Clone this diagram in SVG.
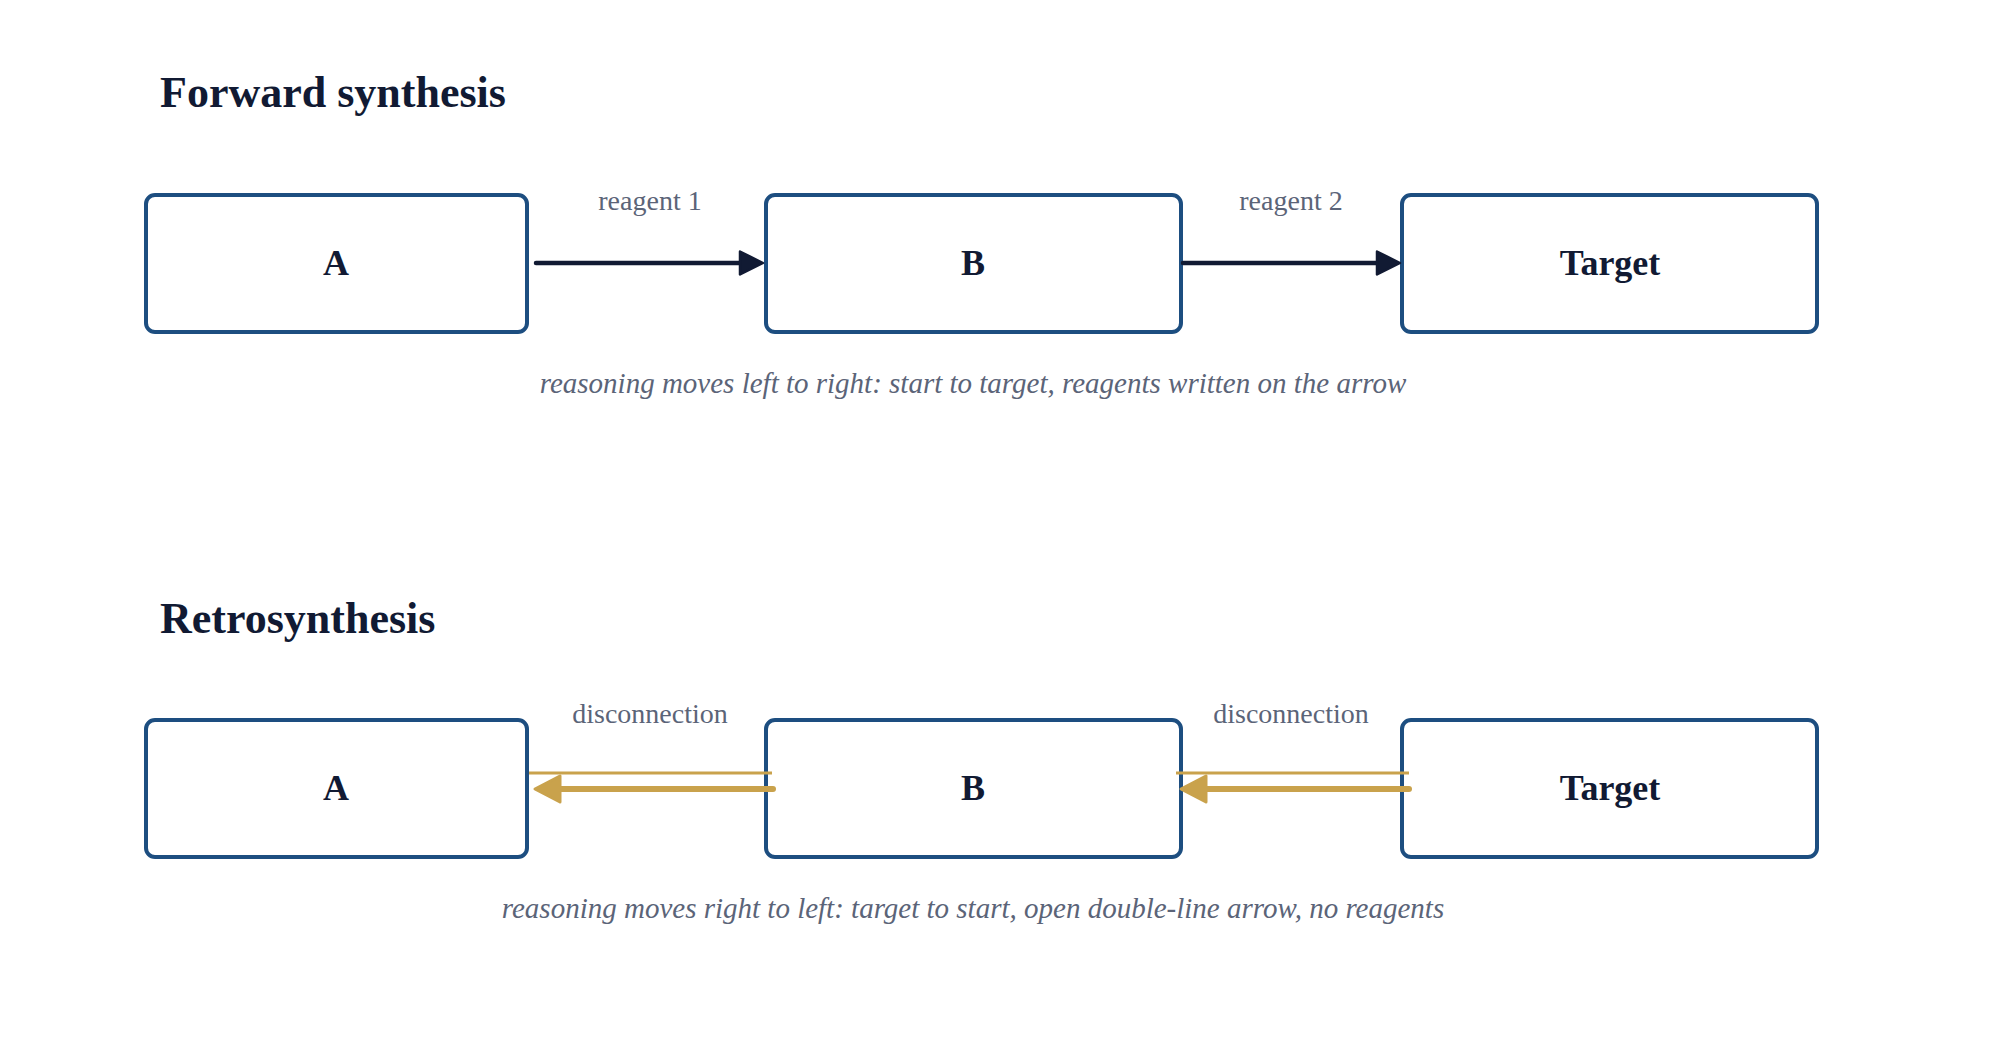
<svg xmlns="http://www.w3.org/2000/svg" width="2000" height="1040" viewBox="0 0 2000 1040">
  <style>
    .title { font-family: "Liberation Serif", "DejaVu Serif", serif; font-weight: bold; font-size: 44px; fill: #111a33; }
    .node rect { fill: #ffffff; stroke: #1d4e80; stroke-width: 4; }
    .node text { font-family: "Liberation Serif", "DejaVu Serif", serif; font-weight: bold; font-size: 36px; fill: #111a33; text-anchor: middle; }
    .elabel { font-family: "Liberation Serif", "DejaVu Serif", serif; font-size: 28px; fill: #5b6478; text-anchor: middle; }
    .caption { font-family: "Liberation Serif", "DejaVu Serif", serif; font-style: italic; font-size: 29px; fill: #5b6478; text-anchor: middle; }
    .fwd { stroke: #111a33; stroke-width: 4.5; stroke-linecap: round; fill: none; }
    .retro-thin { stroke: #c9a24c; stroke-width: 3; fill: none; }
    .retro-thick { stroke: #c9a24c; stroke-width: 6; stroke-linecap: round; fill: none; }
  </style>
  <defs>
    <marker id="head-fwd" markerUnits="userSpaceOnUse" viewBox="0 0 30 30" markerWidth="30" markerHeight="30" refX="12" refY="15" orient="auto">
      <path d="M3,3.5 L26,15 L3,26.5 Z" fill="#111a33" stroke="#111a33" stroke-width="2.5" stroke-linejoin="round"/>
    </marker>
    <marker id="head-retro" markerUnits="userSpaceOnUse" viewBox="0 0 32 32" markerWidth="32" markerHeight="32" refX="13" refY="16" orient="auto">
      <path d="M3,3 L28,16 L3,29 Z" fill="#c9a24c" stroke="#c9a24c" stroke-width="3" stroke-linejoin="round"/>
    </marker>
  </defs>
  <rect x="0" y="0" width="2000" height="1040" fill="#ffffff"/>

  <text class="title" x="160" y="107">Forward synthesis</text>
  <text class="title" x="160" y="633">Retrosynthesis</text>

  <g id="node-fwd-a" class="node">
    <rect x="146" y="195" width="381" height="137" rx="9"/>
    <text x="336" y="275">A</text>
  </g>
  <g id="node-fwd-b" class="node">
    <rect x="766" y="195" width="415" height="137" rx="9"/>
    <text x="973" y="275">B</text>
  </g>
  <g id="node-fwd-target" class="node">
    <rect x="1402" y="195" width="415" height="137" rx="9"/>
    <text x="1610" y="275">Target</text>
  </g>

  <g id="node-retro-a" class="node">
    <rect x="146" y="720" width="381" height="137" rx="9"/>
    <text x="336" y="800">A</text>
  </g>
  <g id="node-retro-b" class="node">
    <rect x="766" y="720" width="415" height="137" rx="9"/>
    <text x="973" y="800">B</text>
  </g>
  <g id="node-retro-target" class="node">
    <rect x="1402" y="720" width="415" height="137" rx="9"/>
    <text x="1610" y="800">Target</text>
  </g>

  <g id="connectors">
    <g id="fwd-a-b">
      <line class="fwd" x1="536" y1="263" x2="749" y2="263" marker-end="url(#head-fwd)"/>
      <text class="elabel" x="650" y="210">reagent 1</text>
    </g>
    <g id="fwd-b-target">
      <line class="fwd" x1="1183" y1="263" x2="1386" y2="263" marker-end="url(#head-fwd)"/>
      <text class="elabel" x="1291" y="210">reagent 2</text>
    </g>
    <g id="retro-b-a">
      <line class="retro-thin" x1="529" y1="773" x2="772" y2="773"/>
      <line class="retro-thick" x1="773" y1="789" x2="550" y2="789" marker-end="url(#head-retro)"/>
      <text class="elabel" x="650" y="723">disconnection</text>
    </g>
    <g id="retro-target-b">
      <line class="retro-thin" x1="1176" y1="773" x2="1409" y2="773"/>
      <line class="retro-thick" x1="1409" y1="789" x2="1196" y2="789" marker-end="url(#head-retro)"/>
      <text class="elabel" x="1291" y="723">disconnection</text>
    </g>
  </g>

  <text class="caption" x="973" y="393">reasoning moves left to right: start to target, reagents written on the arrow</text>
  <text class="caption" x="973" y="918">reasoning moves right to left: target to start, open double-line arrow, no reagents</text>
</svg>
